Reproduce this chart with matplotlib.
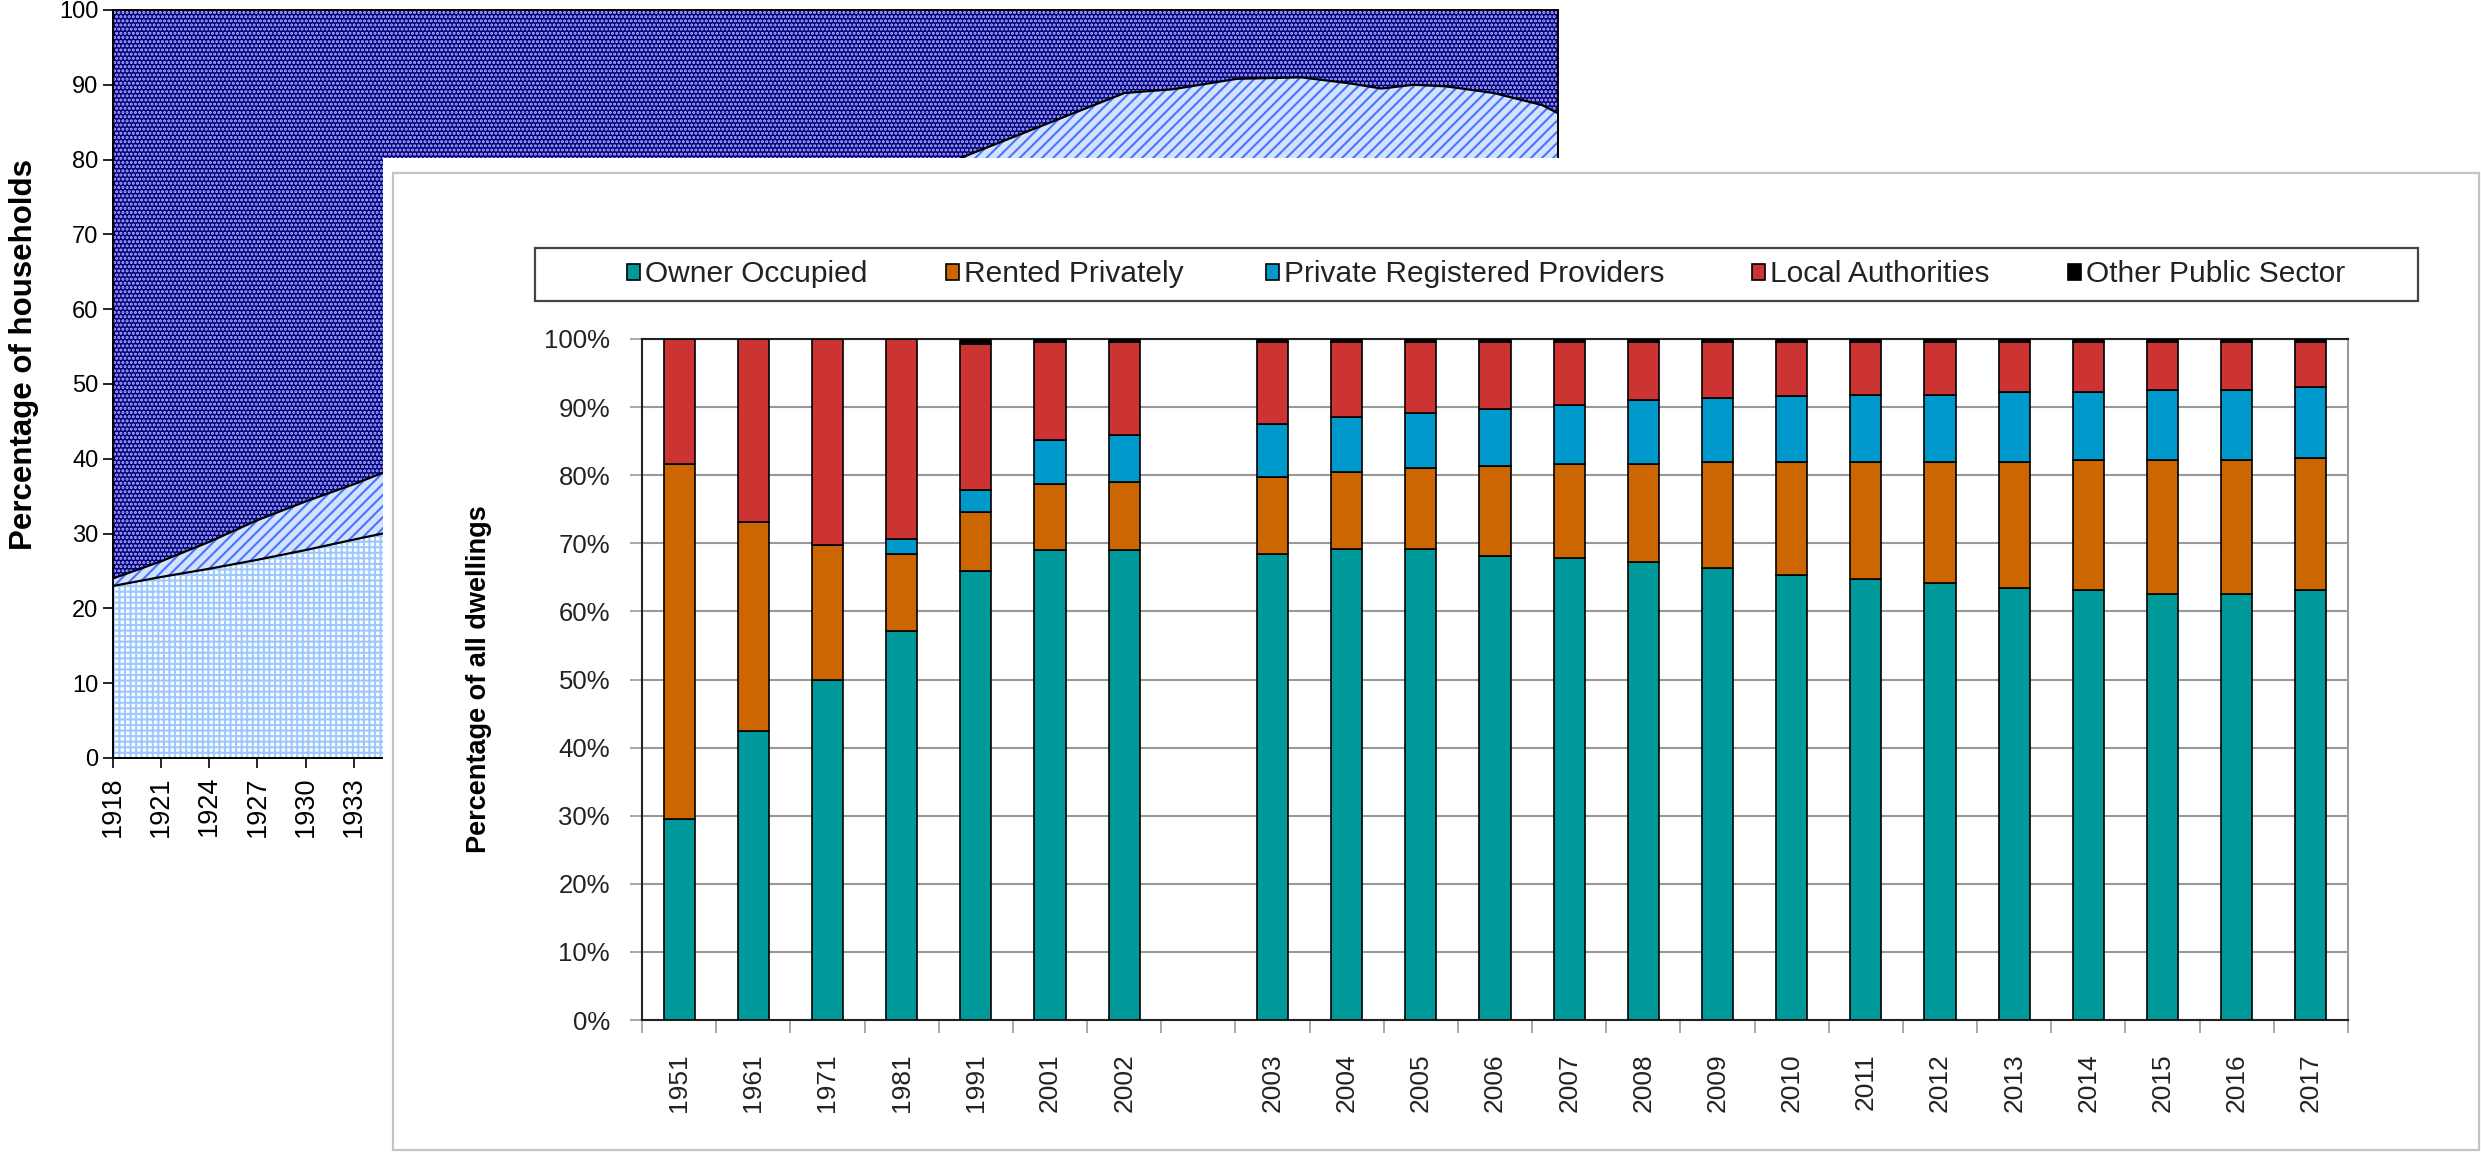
import numpy as np
import matplotlib
matplotlib.use('Agg')
import matplotlib.pyplot as plt
from matplotlib.patches import Rectangle, Patch

plt.rcParams['font.family'] = ['Liberation Sans', 'DejaVu Sans']
plt.rcParams['hatch.linewidth'] = 1.5

# Households by tenure, 1918-2008 (% of households)
hist_years = [1918, 1921, 1924, 1927, 1930, 1933, 1935, 1939, 1953, 1961, 1971,
              1981, 1984, 1988, 1992, 1995, 1997, 1999, 2001, 2004, 2007, 2008]
hist_owner = [23.0, 24.2, 25.3, 26.5, 27.8, 29.2, 30.1, 32.0, 34.0, 43.0, 51.0,
              57.0, 60.0, 64.0, 67.0, 67.0, 67.5, 68.0, 69.0, 69.5, 68.5, 68.0]
hist_social = [1.0, 2.1, 3.6, 5.3, 6.5, 7.4, 8.2, 10.0, 21.0, 24.0, 29.4,
               31.9, 29.4, 26.8, 24.0, 23.2, 22.0, 22.0, 20.8, 19.4, 18.8, 18.2]
hist_private = [76.0, 73.7, 71.1, 68.2, 65.7, 63.4, 61.7, 58.0, 45.0, 33.0, 19.6,
                11.1, 10.6, 9.2, 9.0, 9.8, 10.5, 10.0, 10.2, 11.1, 12.7, 13.8]
hist_tick_years = [1918, 1921, 1924, 1927, 1930, 1933]

# Dwelling stock by tenure (% of all dwellings)
years = ['1951', '1961', '1971', '1981', '1991', '2001', '2002',
         '2003', '2004', '2005', '2006', '2007', '2008', '2009', '2010',
         '2011', '2012', '2013', '2014', '2015', '2016', '2017']
owner_occupied = [29.5, 42.4, 50.0, 57.1, 65.9, 69.0, 69.0,
                  68.5, 69.2, 69.2, 68.1, 67.8, 67.2, 66.4, 65.4,
                  64.8, 64.1, 63.5, 63.2, 62.5, 62.5, 63.2]
rented_privately = [52.2, 30.7, 19.7, 11.3, 8.7, 9.7, 10.0,
                    11.3, 11.2, 11.8, 13.2, 13.8, 14.4, 15.5, 16.5,
                    17.1, 17.8, 18.4, 19.0, 19.7, 19.7, 19.3]
private_reg_providers = [0.0, 0.0, 0.0, 2.2, 3.2, 6.5, 6.9,
                         7.7, 8.1, 8.1, 8.4, 8.7, 9.4, 9.4, 9.7,
                         9.9, 9.9, 10.3, 10.0, 10.3, 10.3, 10.4]
local_authorities = [18.3, 26.9, 30.3, 29.4, 21.4, 14.3, 13.6,
                     12.1, 11.1, 10.5, 9.9, 9.3, 8.6, 8.3, 8.0,
                     7.8, 7.8, 7.4, 7.4, 7.1, 7.1, 6.7]
other_public = [0.0, 0.0, 0.0, 0.0, 0.8, 0.5, 0.5,
                0.4, 0.4, 0.4, 0.4, 0.4, 0.4, 0.4, 0.4,
                0.4, 0.4, 0.4, 0.4, 0.4, 0.4, 0.4]
gap_after = '2002'

series_names = ['Owner Occupied', 'Rented Privately', 'Private Registered Providers',
                'Local Authorities', 'Other Public Sector']
series_colors = ['#009999', '#CC6600', '#0099CC', '#CC3333', '#000000']

W, H = 2481, 1152
fig = plt.figure(figsize=(W / 100, H / 100), dpi=100)

# ---- background: area chart of households ----
bg = fig.add_axes([113 / W, 1 - 758 / H, 1445 / W, 748 / H], zorder=0)
x = np.array(hist_years)
lvl1 = np.array(hist_owner)
lvl2 = lvl1 + np.array(hist_social)
lvl3 = lvl2 + np.array(hist_private)
bg.fill_between(x, 0, lvl1, facecolor='white', edgecolor='#9CC8FF', hatch='+++', linewidth=0)
bg.fill_between(x, lvl1, lvl2, facecolor='#D4E2FF', edgecolor='#4676FF', hatch='///', linewidth=0)
bg.fill_between(x, lvl2, lvl3, facecolor='#000080', edgecolor='#B8B8FF', hatch='....', linewidth=0)
bg.plot(x, lvl1, color='black', lw=1.6)
bg.plot(x, lvl2, color='black', lw=1.6)
bg.set_xlim(1918, 2008)
bg.set_ylim(0, 100)
bg.set_yticks(range(0, 101, 10))
bg.set_xticks(hist_tick_years)
bg.tick_params(axis='y', labelsize=17, length=7, width=1.2, direction='out')
bg.tick_params(axis='x', labelsize=19.5, length=7, width=1.2, direction='out',
               labelrotation=90, pad=6)
for s in bg.spines.values():
    s.set_linewidth(1.4)
bg.set_ylabel('Percentage of households', fontsize=22.5, fontweight='bold')
bg.yaxis.set_label_coords(-0.051, 0.54)

# ---- foreground panel ----
fig.patches.append(Rectangle((383 / W, 0), 1 - 383 / W, (H - 158) / H,
                             transform=fig.transFigure, facecolor='white',
                             edgecolor='none', zorder=1))
fig.patches.append(Rectangle((393 / W, 2 / H), 2086 / W, (1150 - 173) / H,
                             transform=fig.transFigure, facecolor='white',
                             edgecolor='#C4C4C4', linewidth=1.6, zorder=1.1))

ax = fig.add_axes([642 / W, 1 - 1020 / H, 1706 / W, 681 / H], zorder=2)
gap = years.index(gap_after) + 1
pos = np.array([i if i < gap else i + 1 for i in range(len(years))])
bottom = np.zeros(len(years))
for name, vals, col in zip(series_names,
                           [owner_occupied, rented_privately, private_reg_providers,
                            local_authorities, other_public],
                           series_colors):
    vals = np.array(vals)
    ax.bar(pos, vals, width=0.42, bottom=bottom, color=col, edgecolor='black',
           linewidth=1.2, zorder=3)
    bottom += vals

n_slots = len(years) + 1
ax.set_xlim(-0.5, n_slots - 0.5)
ax.set_ylim(0, 100)
ax.set_xticks(pos)
ax.set_xticklabels(years, rotation=90)
ax.set_xticks(np.arange(-0.5, n_slots, 1), minor=True)
ax.tick_params(axis='x', which='major', length=0, pad=24, labelsize=19, labelcolor='#222222')
ax.tick_params(axis='x', which='minor', length=9, width=1.2, color='#999999')
ax.set_yticks(range(0, 101, 10))
ax.set_yticklabels([f'{v}%' for v in range(0, 101, 10)])
ax.tick_params(axis='y', length=9, width=1.2, color='#999999', pad=14,
               labelsize=18.5, labelcolor='#222222')
ax.yaxis.grid(True, color='#999999', linewidth=1.5)
ax.set_axisbelow(True)
for side in ['left', 'bottom', 'top']:
    ax.spines[side].set_color('#222222')
    ax.spines[side].set_linewidth(1.5)
ax.spines['right'].set_color('#999999')
ax.spines['right'].set_linewidth(1.5)
ax.set_ylabel('Percentage of all dwellings', fontsize=19.5, fontweight='bold')
ax.yaxis.set_label_coords(-0.088, 0.5)

# legend box, one entry per slot
fig.patches.append(Rectangle((535 / W, 1 - 301 / H), 1883 / W, 53 / H,
                             transform=fig.transFigure, facecolor='white',
                             edgecolor='#444444', linewidth=1.6, zorder=3))
entry_x = [627, 946, 1266, 1752, 2068]
for name, col, ex in zip(series_names, series_colors, entry_x):
    leg = fig.legend([Patch(facecolor=col, edgecolor='black', linewidth=1.2)], [name],
                     loc='center left', bbox_to_anchor=(ex / W, 1 - 274.5 / H),
                     frameon=False, fontsize=21.5, borderpad=0, borderaxespad=0,
                     handlelength=0.45, handleheight=0.45, handletextpad=0.15)
    leg.set_zorder(4)
    for t in leg.get_texts():
        t.set_color('#222222')

fig.savefig('out.png', dpi=100)
